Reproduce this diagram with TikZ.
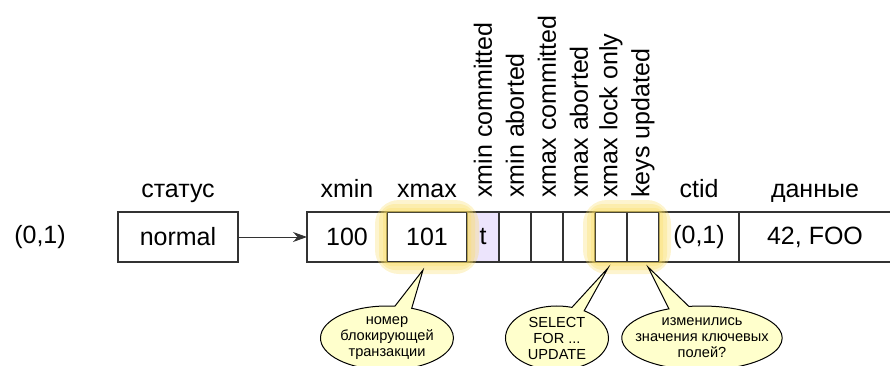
\documentclass[tikz,border=0pt]{standalone}
\usepackage{fontspec}
\setmainfont{Liberation Sans}
\usetikzlibrary{arrows.meta, calc, positioning, shapes.callouts}

\definecolor{glowyellow}{RGB}{250,220,95}
\definecolor{noteyellow}{RGB}{255,255,204}
\definecolor{flaglilac}{RGB}{236,228,252}
\definecolor{cellline}{RGB}{51,51,51}

\tikzset{
	cell/.style={draw=cellline, line width=0.6pt, minimum height=25pt, inner sep=0pt, outer sep=0pt},
	head/.style={anchor=base, inner sep=0pt},
	flaghead/.style={rotate=90, anchor=west, inner sep=0pt},
	glow/.style={fill=glowyellow, fill opacity=0.3, even odd rule},
	note/.style={ellipse callout, draw=black, line width=0.5pt, fill=noteyellow, align=center,
		font=\fontsize{7.3}{8}\selectfont, inner xsep=-5pt, inner ysep=-1.5pt, minimum height=32pt},
}

\begin{document}
\begin{tikzpicture}[x=0.5pt, y=-0.5pt, font=\fontsize{12.5}{14}\selectfont]
		\useasboundingbox (0,0) rectangle (890,365);
		\node (pos) at (40,237) {(0,1)};
		\node[cell, minimum width=60pt] (stat) at (178,237) {normal};
		\node[head] (stathead) at (178,197) {статус};

		% tuple header
		\node[cell, minimum width=40pt, anchor=west] (xmin) at (307,237) {100};
		\node[cell, minimum width=40pt, right=0pt of xmin] (xmax) {101};
		\node[cell, minimum width=16pt, fill=flaglilac, right=0pt of xmax] (f0) {t};
		\foreach \i [count=\j from 0] in {1, 2, ..., 5} {
			\node[cell, minimum width=16pt, right=0pt of f\j] (f\i) {};
		}
		\node[cell, minimum width=40pt, right=0pt of f5] (ctid) {(0,1)};
		\node[cell, minimum width=76pt, right=0pt of ctid] (data) {42, FOO};

		\node[head] at (xmin |- stathead.base) {xmin};
		\node[head] at (xmax |- stathead.base) {xmax};
		\node[head] at (ctid |- stathead.base) {ctid};
		\node[head] at (data |- stathead.base) {данные};
		\foreach \i/\txt in {0/xmin committed, 1/xmin aborted, 2/xmax committed,
				3/xmax aborted, 4/xmax lock only, 5/keys updated} {
			\node[flaghead] (h\i) at ($(f\i.north)+(0,-14)$) {\txt};
		}

		\draw[-{Stealth[length=7pt, width=5pt]}, cellline, line width=0.5pt] (stat) -- (xmin);

		% highlight
		\foreach \a/\b in {xmax/xmax, f4/f5} {
			\foreach \d in {4, 8, 12} {
				\fill[glow] [rounded corners=\d] ($(\a.north west)+(-\d,-\d)$) rectangle ($(\b.south east)+(\d,\d)$)
					[sharp corners] (\a.north west) rectangle (\b.south east);
			}
		}

		% notes
		\coordinate (tip1) at ($(xmax.south)+(-4,8)$);
		\coordinate (tip2) at ($(f4.south)+(-3,6)$);
		\coordinate (tip3) at ($(f5.south)+(5,5)$);
		\node[note, minimum width=66.5pt, callout absolute pointer=(tip1)] (n1) at (387,338) {номер\\блокирующей\\транзакции};
		\node[note, minimum width=51.5pt, callout absolute pointer=(tip2)] (n2) at (557,338) {SELECT\\FOR ...\\UPDATE};
		\node[note, minimum width=80pt, callout absolute pointer=(tip3)] (n3) at (702,338) {изменились\\значения ключевых\\полей?};
	\end{tikzpicture}
\end{document}
